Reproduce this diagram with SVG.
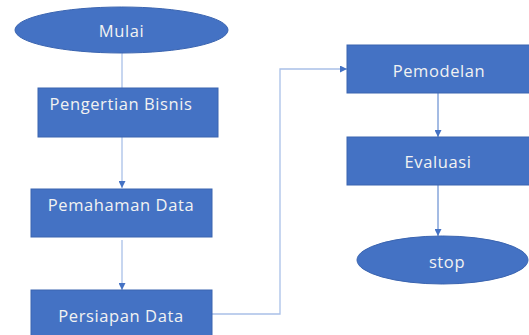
<svg xmlns="http://www.w3.org/2000/svg" width="529" height="335" viewBox="0 0 529 335">
<defs>
<style>
.n{fill:#4472C4;stroke:#3A64B0;stroke-width:1}
.t{font-family:"Open Sans","Liberation Sans",sans-serif;font-size:16.5px;letter-spacing:0.6px;fill:#F2F2F2;text-anchor:middle;dominant-baseline:central}
.c{fill:none;stroke:#A9C0E8;stroke-width:1.3}
.c2{fill:none;stroke:#4A78C8;stroke-width:1}
</style>
<marker id="a" viewBox="0 0 10 10" refX="10" refY="5" markerWidth="7" markerHeight="7" orient="auto" markerUnits="userSpaceOnUse"><path d="M0,0L10,5L0,10z" fill="#4472C4"/></marker>
</defs>
<rect width="529" height="335" fill="#FFFFFF"/>
<g id="connectors">
<path class="c" d="M122,53V88"/>
<path class="c" d="M122,137V188" marker-end="url(#a)"/>
<path class="c" d="M122,240V290" marker-end="url(#a)"/>
<path class="c" d="M212,314H280V69H347" marker-end="url(#a)"/>
<path class="c2" d="M438,93V137" marker-end="url(#a)"/>
<path class="c2" d="M438,185V236" marker-end="url(#a)"/>
</g>
<g id="mulai"><ellipse class="n" cx="121.5" cy="30" rx="106.5" ry="23"/><text class="t" x="121.5" y="30">Mulai</text></g>
<g id="pengertian"><rect class="n" x="38" y="88" width="180" height="49"/><text class="t" x="121" y="103">Pengertian Bisnis</text></g>
<g id="pemahaman"><rect class="n" x="31" y="189" width="181" height="48"/><text class="t" x="121" y="204">Pemahaman Data</text></g>
<g id="persiapan"><rect class="n" x="31" y="290" width="181" height="50"/><text class="t" x="121" y="315">Persiapan Data</text></g>
<g id="pemodelan"><rect class="n" x="347" y="45" width="185" height="48"/><text class="t" x="439" y="70">Pemodelan</text></g>
<g id="evaluasi"><rect class="n" x="347" y="137" width="185" height="48"/><text class="t" x="438" y="161">Evaluasi</text></g>
<g id="stop"><ellipse class="n" cx="442.5" cy="260" rx="85.5" ry="24"/><text class="t" x="447" y="261">stop</text></g>
</svg>
